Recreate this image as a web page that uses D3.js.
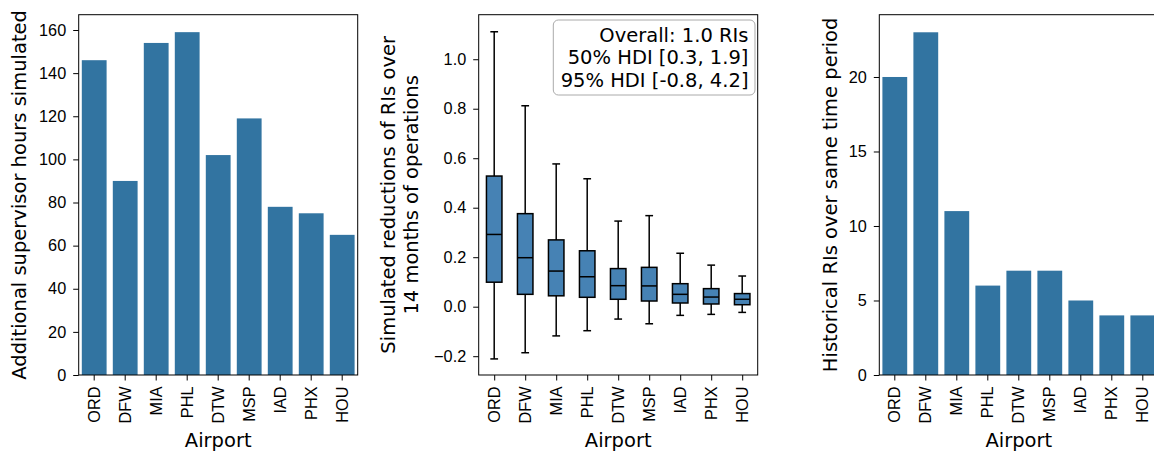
<!DOCTYPE html>
<html>
<head>
<meta charset="utf-8">
<script src="https://cdn.jsdelivr.net/npm/d3@7"></script>
<style>
    body { margin: 0; background: #fff; }
    svg { display: block; font-family: "DejaVu Sans", sans-serif; }
</style>
</head>
<body>
<svg width="1154" height="454"></svg>
<script>
// Airports, shared by all three panels.
var airports = ['ORD', 'DFW', 'MIA', 'PHL', 'DTW', 'MSP', 'IAD', 'PHX', 'HOU'];

// Left panel: additional supervisor hours.
var hours = [146, 90, 154, 159, 102, 119, 78, 75, 65];

// Middle panel: box plot stats per airport.
var whiskerLow  = [-0.211, -0.186, -0.118, -0.097, -0.050, -0.069, -0.035, -0.031, -0.023];
var q1          = [0.099, 0.050, 0.044, 0.038, 0.030, 0.023, 0.015, 0.011, 0.008];
var median      = [0.292, 0.198, 0.144, 0.121, 0.085, 0.084, 0.050, 0.039, 0.030];
var q3          = [0.528, 0.376, 0.270, 0.226, 0.154, 0.159, 0.093, 0.073, 0.053];
var whiskerHigh = [1.111, 0.812, 0.577, 0.517, 0.346, 0.368, 0.216, 0.168, 0.124];

var legendLines = ['Overall: 1.0 RIs', '50% HDI [0.3, 1.9]', '95% HDI [-0.8, 4.2]'];

// Right panel: historical RIs.
var historical = [20, 23, 11, 6, 7, 7, 5, 4, 4];

//==========================================================================
// Layout.

var svg = d3.select('svg');
var barColor = '#3274a1';
var boxColor = '#4682b4';
var marginTop = 14.7, marginBottom = 375, panelW = 279;
var height = marginBottom - marginTop;
var tickFont = 16.25, labelFont = 19.5;

function makePanel(left) {
    return svg.append('g').attr('transform', 'translate(' + left + ',' + marginTop + ')');
}

function drawXAxis(g, x) {
    var ax = g.append('g')
        .attr('transform', 'translate(0,' + height + ')')
        .call(d3.axisBottom(x).tickSize(5.5).tickSizeOuter(0));
    ax.select('.domain').remove();
    ax.selectAll('line').attr('stroke', '#000').attr('stroke-width', 1);
    ax.selectAll('text')
        .attr('font-size', tickFont)
        .attr('fill', '#000')
        .attr('transform', 'rotate(-90)')
        .attr('text-anchor', 'end')
        .attr('x', -11.5)
        .attr('y', 0)
        .attr('dy', '0.35em');
    g.append('text')
        .attr('x', panelW / 2)
        .attr('y', height + 72)
        .attr('text-anchor', 'middle')
        .attr('font-size', labelFont)
        .text('Airport');
}

function drawYAxis(g, y, ticks, fmt) {
    var ax = g.append('g')
        .call(d3.axisLeft(y).tickValues(ticks).tickFormat(fmt).tickSize(5.5).tickSizeOuter(0).tickPadding(7));
    ax.select('.domain').remove();
    ax.selectAll('line').attr('stroke', '#000').attr('stroke-width', 1);
    ax.selectAll('text').attr('font-size', tickFont).attr('fill', '#000');
}

function drawFrame(g) {
    g.append('rect')
        .attr('width', panelW)
        .attr('height', height)
        .attr('fill', 'none')
        .attr('stroke', '#000')
        .attr('stroke-width', 1);
}

function yLabel(g, lines, xs) {
    lines.forEach(function(line, i) {
        g.append('text')
            .attr('transform', 'translate(' + xs[i] + ',' + height / 2 + ') rotate(-90)')
            .attr('text-anchor', 'middle')
            .attr('dy', '0.35em')
            .attr('font-size', labelFont)
            .text(line);
    });
}

function barPanel(left, values, yMax, ticks, labelLines, labelXs) {
    var g = makePanel(left);
    var x = d3.scaleBand().domain(airports).range([0, panelW]).paddingInner(0.2).paddingOuter(0.1);
    var y = d3.scaleLinear().domain([0, yMax]).range([height, 0]);

    g.selectAll('.bar')
        .data(airports)
        .enter()
        .append('rect')
        .classed('bar', true)
        .attr('x', function(d) { return x(d); })
        .attr('width', x.bandwidth())
        .attr('y', function(d, i) { return y(values[i]); })
        .attr('height', function(d, i) { return height - y(values[i]); })
        .attr('fill', barColor);

    drawFrame(g);
    drawXAxis(g, x);
    drawYAxis(g, y, ticks, d3.format('d'));
    yLabel(g, labelLines, labelXs);
}

//==========================================================================
// Left and right bar panels.

barPanel(78.7, hours, 167.1, d3.range(0, 161, 20),
    ['Additional supervisor hours simulated'], [19 - 78.7]);

barPanel(879.3, historical, 24.18, [0, 5, 10, 15, 20],
    ['Historical RIs over same time period'], [830 - 879.3]);

//==========================================================================
// Middle box plot panel.

(function() {
    var g = makePanel(478.7);
    var x = d3.scalePoint().domain(airports).range([0, panelW]).padding(0.5);
    var y = d3.scaleLinear().domain([-0.276, 1.18]).range([height, 0]);
    var boxW = x.step() * 0.5;
    var capW = boxW / 2;

    var boxes = g.selectAll('.box')
        .data(airports)
        .enter()
        .append('g')
        .classed('box', true)
        .attr('transform', function(d) { return 'translate(' + x(d) + ',0)'; })
        .attr('stroke', '#000')
        .attr('stroke-width', 1.5);

    // Whiskers.
    boxes.append('line')
        .attr('y1', function(d, i) { return y(whiskerLow[i]); })
        .attr('y2', function(d, i) { return y(q1[i]); });
    boxes.append('line')
        .attr('y1', function(d, i) { return y(q3[i]); })
        .attr('y2', function(d, i) { return y(whiskerHigh[i]); });

    // Caps.
    boxes.append('line')
        .attr('x1', -capW / 2).attr('x2', capW / 2)
        .attr('y1', function(d, i) { return y(whiskerLow[i]); })
        .attr('y2', function(d, i) { return y(whiskerLow[i]); });
    boxes.append('line')
        .attr('x1', -capW / 2).attr('x2', capW / 2)
        .attr('y1', function(d, i) { return y(whiskerHigh[i]); })
        .attr('y2', function(d, i) { return y(whiskerHigh[i]); });

    boxes.append('rect')
        .attr('x', -boxW / 2)
        .attr('width', boxW)
        .attr('y', function(d, i) { return y(q3[i]); })
        .attr('height', function(d, i) { return y(q1[i]) - y(q3[i]); })
        .attr('fill', boxColor);

    boxes.append('line')
        .attr('x1', -boxW / 2).attr('x2', boxW / 2)
        .attr('y1', function(d, i) { return y(median[i]); })
        .attr('y2', function(d, i) { return y(median[i]); });

    drawFrame(g);
    drawXAxis(g, x);
    drawYAxis(g, y, [-0.2, 0, 0.2, 0.4, 0.6, 0.8, 1.0], d3.format('.1f'));
    yLabel(g, ['Simulated reductions of RIs over', '14 months of operations'],
        [388 - 478.7, 411.5 - 478.7]);

    // Annotation box in upper right.
    var lg = g.append('g').attr('transform', 'translate(' + (553.3 - 478.7) + ',' + (20 - marginTop) + ')');
    lg.append('rect')
        .attr('width', 755 - 553.3)
        .attr('height', 75)
        .attr('rx', 5)
        .attr('fill', '#fff')
        .attr('stroke', '#aaa')
        .attr('stroke-width', 1);
    lg.selectAll('text')
        .data(legendLines)
        .enter()
        .append('text')
        .attr('x', 748.5 - 553.3)
        .attr('y', function(d, i) { return 21.7 + i * 22.7; })
        .attr('text-anchor', 'end')
        .attr('font-size', labelFont)
        .text(function(d) { return d; });
})();
</script>
</body>
</html>
